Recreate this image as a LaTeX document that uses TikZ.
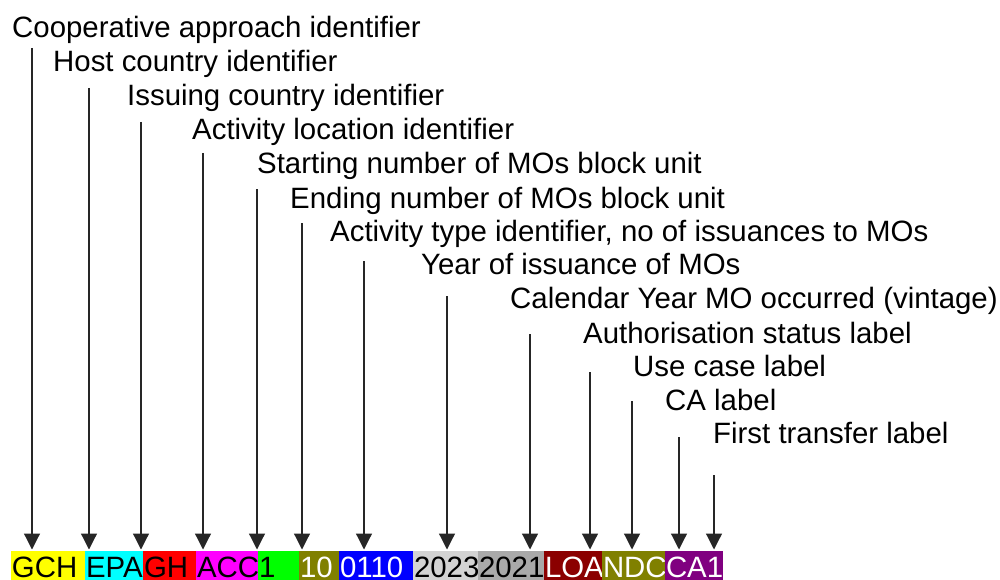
\documentclass[tikz,border=0pt]{standalone}
\usepackage{fontspec}
\setmainfont{Liberation Sans}
\usetikzlibrary{arrows.meta}
\definecolor{cYel}{HTML}{FFFF00}
\definecolor{cCya}{HTML}{00FFFF}
\definecolor{cRed}{HTML}{FF0000}
\definecolor{cMag}{HTML}{FF00FF}
\definecolor{cGrn}{HTML}{00FF00}
\definecolor{cOlv}{HTML}{808000}
\definecolor{cBlu}{HTML}{0000FF}
\definecolor{cLgr}{HTML}{D3D3D3}
\definecolor{cDgr}{HTML}{A9A9A9}
\definecolor{cMar}{HTML}{8B0000}
\definecolor{cPur}{HTML}{800080}
\begin{document}
\begin{tikzpicture}[x=1pt,y=-1pt,
  lbl/.style={anchor=base west, inner sep=0pt, font=\fontsize{29.4}{34}\selectfont},
  cell/.style={anchor=south west, inner xsep=1pt, inner ysep=0pt, outer sep=0pt,
    minimum height=29pt, text height=26pt, text depth=2pt, align=left,
    font=\fontsize{29.4}{34}\selectfont},
  arr/.style={draw=black!85, line width=1.2pt, -{Triangle[width=16pt,length=16pt]}, shorten >=1.5pt}]
\useasboundingbox (0,0) rectangle (1000,580);
% labels
\node[lbl] (l1)  at (12,38)  {Cooperative approach identifier};
\node[lbl] (l2)  at (53,72)  {Host country identifier};
\node[lbl] (l3)  at (127,106) {Issuing country identifier};
\node[lbl] (l4)  at (192,140) {Activity location identifier};
\node[lbl] (l5)  at (257,173) {Starting number of MOs block unit};
\node[lbl] (l6)  at (290,208) {Ending number of MOs block unit};
\node[lbl] (l7)  at (330,241) {Activity type identifier, no of issuances to MOs};
\node[lbl] (l8)  at (421,274) {Year of issuance of MOs};
\node[lbl] (l9)  at (510,308) {Calendar Year MO occurred (vintage)};
\node[lbl] (l10) at (583,343) {Authorisation status label};
\node[lbl] (l11) at (633,376) {Use case label};
\node[lbl] (l12) at (665,410) {CA label};
\node[lbl] (l13) at (713,443) {First transfer label};
% cells
\node[cell, fill=cYel, text width=72pt] (b1) at (11,580) {GCH};
\node[cell, fill=cCya, text width=56pt] (b2) at (85,580) {EPA};
\node[cell, fill=cRed, text width=51pt] (b3) at (143,580) {GH};
\node[cell, fill=cMag, text width=60pt] (b4) at (196,580) {ACC};
\node[cell, fill=cGrn, text width=39pt] (b5) at (258,580) {1};
\node[cell, fill=cOlv, text width=38pt, text=white] (b6) at (299,580) {10};
\node[cell, fill=cBlu, text width=72pt, text=white] (b7) at (339,580) {0110};
\node[cell, fill=cLgr, text width=63pt] (b8) at (413,580) {2023};
\node[cell, fill=cDgr, text width=64pt] (b9) at (478,580) {2021};
\node[cell, fill=cMar, text width=56pt, text=white] (b10) at (544,580) {LOA};
\node[cell, fill=cOlv, text width=61pt, text=white] (b11) at (602,580) {NDC};
\node[cell, fill=cPur, text width=56pt, text=white] (b12) at (665,580) {CA1};
% arrow starts
\coordinate (a1)  at (32,48);
\coordinate (a2)  at (89,88);
\coordinate (a3)  at (141,122);
\coordinate (a4)  at (203,153);
\coordinate (a5)  at (257,189);
\coordinate (a6)  at (302,223);
\coordinate (a7)  at (364,261);
\coordinate (a8)  at (447,296);
\coordinate (a9)  at (530,334);
\coordinate (a10) at (590,372);
\coordinate (a11) at (632,401);
\coordinate (a12) at (679,437);
\coordinate (a13) at (714,475);
% arrows
\draw[arr] (a1)  -- (a1  |- b1.north);
\draw[arr] (a2)  -- (a2  |- b2.north);
\draw[arr] (a3)  -- (a3  |- b2.north);
\draw[arr] (a4)  -- (a4  |- b4.north);
\draw[arr] (a5)  -- (a5  |- b4.north);
\draw[arr] (a6)  -- (a6  |- b6.north);
\draw[arr] (a7)  -- (a7  |- b7.north);
\draw[arr] (a8)  -- (a8  |- b8.north);
\draw[arr] (a9)  -- (a9  |- b9.north);
\draw[arr] (a10) -- (a10 |- b10.north);
\draw[arr] (a11) -- (a11 |- b11.north);
\draw[arr] (a12) -- (a12 |- b12.north);
\draw[arr] (a13) -- (a13 |- b12.north);
\end{tikzpicture}
\end{document}
